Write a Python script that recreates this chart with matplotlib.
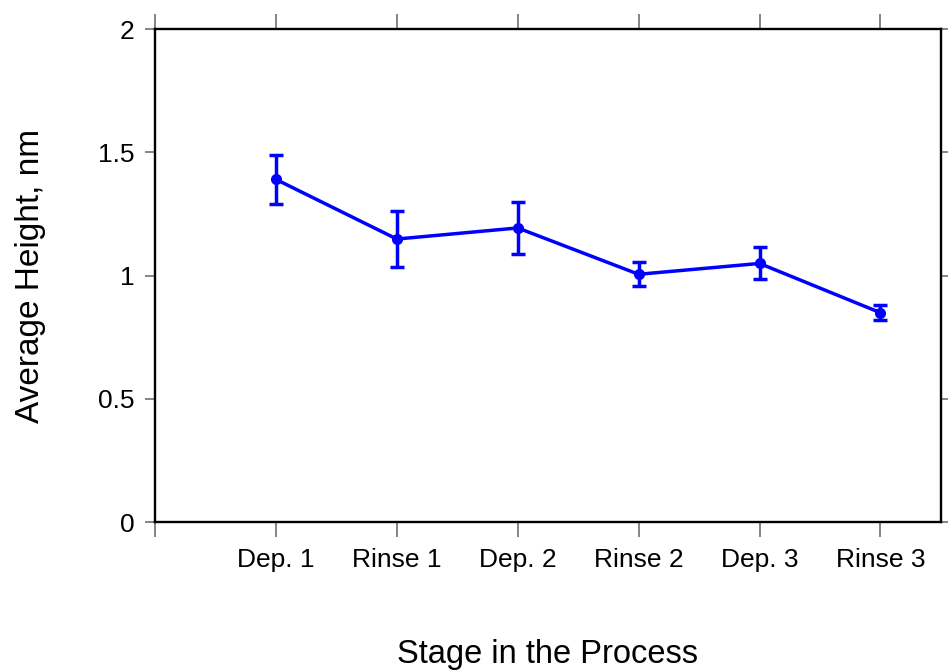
import matplotlib.pyplot as plt
import numpy as np

plt.rcParams['font.family'] = ['Liberation Sans', 'DejaVu Sans']

# average step height at each stage, with standard deviation
stages = ['Dep. 1', 'Rinse 1', 'Dep. 2', 'Rinse 2', 'Dep. 3', 'Rinse 3']
height = [1.39, 1.148, 1.193, 1.005, 1.049, 0.849]
height_err = [0.099, 0.114, 0.107, 0.049, 0.065, 0.031]

x = np.arange(1, len(stages) + 1)

fig = plt.figure(figsize=(9.48, 6.72), dpi=100)
ax = fig.add_axes([0.1635, 0.2232, 0.829, 0.7336])

ax.errorbar(x, height, yerr=height_err, color='#0000ff', lw=2.5, marker='o', ms=7,
            elinewidth=2.5, capsize=5, capthick=2.5)

ax.set_xlim(0, 6.5)
ax.set_ylim(0, 2)
ax.set_xticks(np.arange(0, 7))
ax.set_xticklabels([''] + stages)
ax.set_yticks([0, 0.5, 1, 1.5, 2])
ax.set_yticklabels(['0', '0.5', '1', '1.5', '2'])

for s in ax.spines.values():
    s.set_linewidth(1.7)
    s.set_color('black')

ax.tick_params(axis='both', which='major', direction='out', color='#707070', width=1.2,
               labelsize=19, pad=8)
ax.tick_params(axis='x', length=11, top=True)
ax.tick_params(axis='y', length=7, right=True)

ax.set_xlabel('Stage in the Process', fontsize=23.5, labelpad=48)
ax.set_ylabel('Average Height, nm', fontsize=24, labelpad=37)

plt.savefig('out.png', dpi=100)
